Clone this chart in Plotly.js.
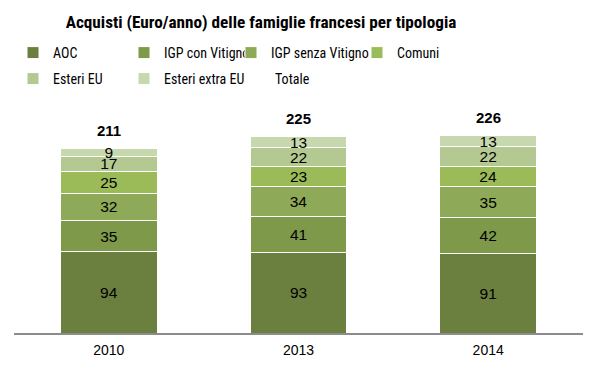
<!DOCTYPE html>
<html><head><meta charset="utf-8">
<script src="https://cdn.plot.ly/plotly-3.0.1.min.js"></script>
<style>html,body{margin:0;padding:0;background:#fff}</style>
</head><body><div id="chart" style="width:598px;height:369px"></div>
<script>
const years = ['2010', '2013', '2014'];
const seriesNames = ['AOC', 'IGP con Vitigno', 'IGP senza Vitigno', 'Comuni', 'Esteri EU', 'Esteri extra EU'];
const aoc = [94, 93, 91];
const igpCon = [35, 41, 42];
const igpSenza = [32, 34, 35];
const comuni = [25, 23, 24];
const esteriEU = [17, 22, 22];
const esteriExtraEU = [9, 13, 13];
const totale = [211, 225, 226];

const seriesValues = [aoc, igpCon, igpSenza, comuni, esteriEU, esteriExtraEU];
const colors = ['#6b7f3e', '#7e994a', '#8ea957', '#9bbb59', '#b3c991', '#c8d8ae'];
const legendIds = ['legend', 'legend2', 'legend3', 'legend4', 'legend5', 'legend6', 'legend7'];
const labelFont = {family: 'Liberation Sans, Arial, sans-serif', size: 15.5, color: '#000'};

const traces = seriesValues.map((vals, i) => ({
  type: 'bar', name: seriesNames[i], x: years, y: vals,
  text: vals.map(String), textposition: 'inside', insidetextanchor: 'middle', textangle: 0,
  constraintext: 'none', textfont: labelFont,
  marker: {color: colors[i], line: {color: '#ffffff', width: 1}},
  legend: legendIds[i]
}));
traces.push({
  type: 'scatter', mode: 'lines', name: 'Totale', x: years, y: totale,
  line: {color: 'rgba(0,0,0,0)', width: 0}, legend: legendIds[6]
});

const annotations = years.map((yr, i) => ({
  x: i, y: totale[i], xref: 'x', yref: 'y', text: '<b>' + totale[i] + '</b>',
  showarrow: false, yanchor: 'middle', yshift: 19,
  font: {family: 'Liberation Sans, Arial, sans-serif', size: 15, color: '#000'}
}));

const legendFont = {family: 'Roboto Condensed, sans-serif', size: 14, color: '#000'};
function legendAt(xpx, ypx) {
  return {orientation: 'h', x: xpx/598, xref: 'container', xanchor: 'left', y: 1 - ypx/369, yref: 'container', yanchor: 'middle',
    font: legendFont, bgcolor: 'rgba(0,0,0,0)'};
}
const legendX = [13, 124, 231, 357, 13, 124, 235];
const legendY = [53, 53, 53, 53, 79, 79, 79];
const layout = {
  width: 598, height: 369,
  margin: {l: 14, r: 15, t: 100, b: 36},
  paper_bgcolor: '#fff', plot_bgcolor: '#fff',
  barmode: 'stack', bargap: 0.49,
  title: {text: '<b>Acquisti (Euro/anno) delle famiglie francesi per tipologia</b>',
    x: 261/598, xref: 'container', xanchor: 'center', y: 1 - 22/369, yref: 'container', yanchor: 'middle',
    font: {family: 'Roboto Condensed, sans-serif', size: 17.2, color: '#000'}},
  showlegend: true,
  xaxis: {type: 'category', range: [-0.5, 2.5], showline: true, linecolor: '#8c8c8c', linewidth: 1.5, ticks: 'outside', ticklen: 3,
    tickcolor: 'rgba(0,0,0,0)', tickfont: {family: 'Liberation Sans, Arial, sans-serif', size: 14, color: '#000'},
    showgrid: false, zeroline: false},
  yaxis: {range: [0, 268], visible: false, showgrid: false, zeroline: false},
  annotations: annotations
};
legendIds.forEach((id, k) => { layout[id] = legendAt(legendX[k], legendY[k]); });
Plotly.newPlot('chart', traces, layout, {displayModeBar: false});
</script></body></html>
